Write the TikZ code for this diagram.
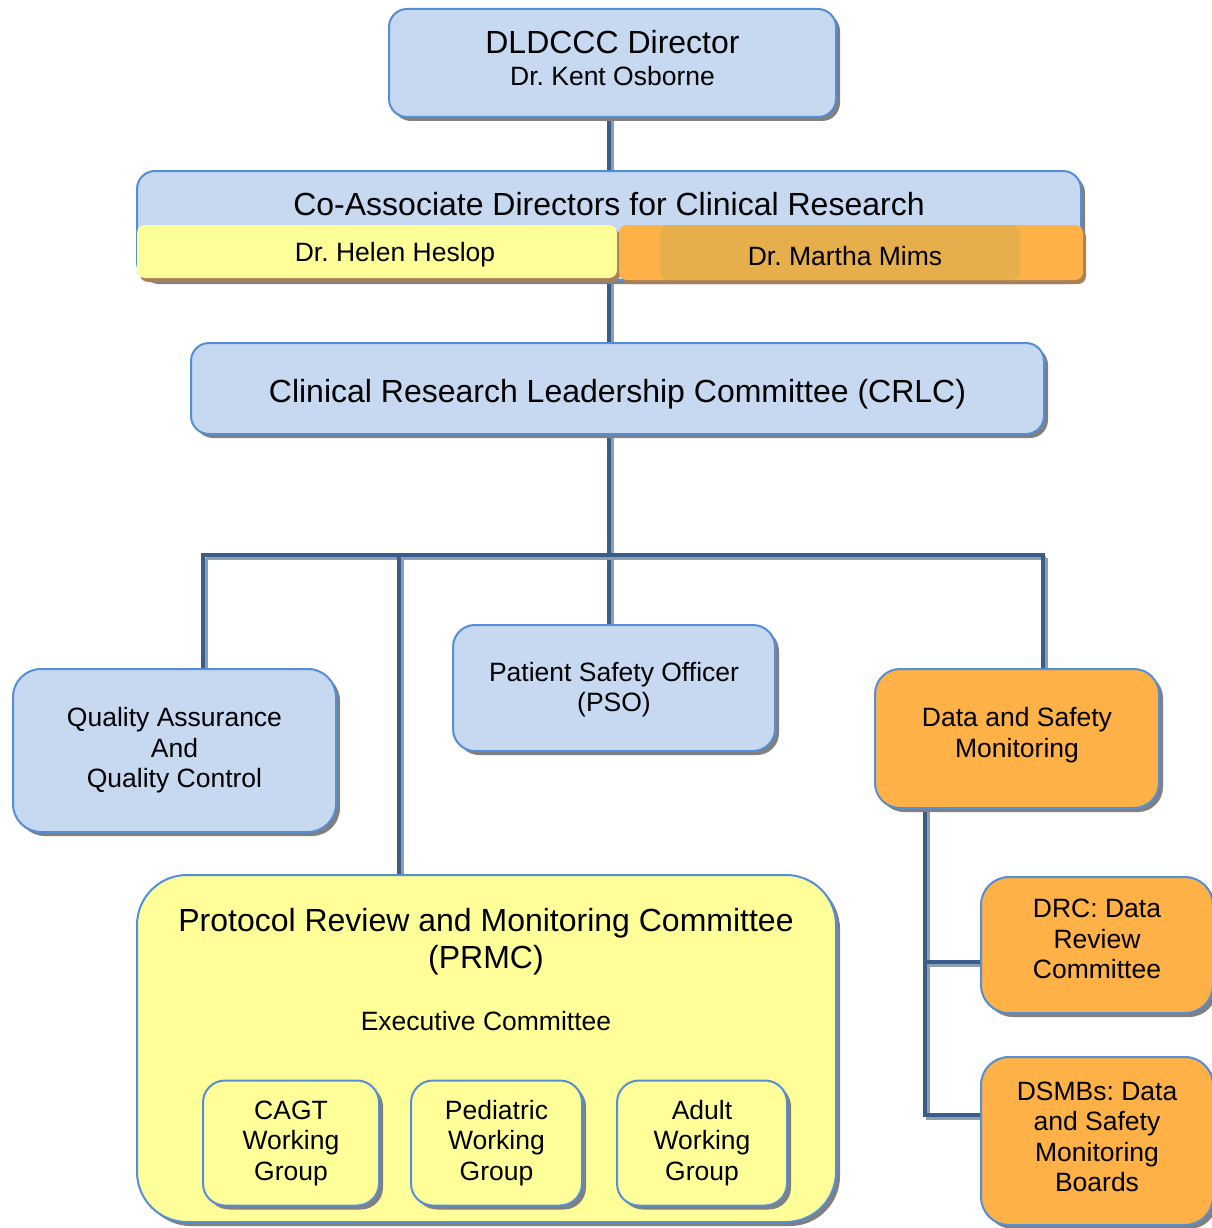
\documentclass[tikz,border=0pt]{standalone}
\usepackage{fontspec}
\setmainfont{Liberation Sans}
\usetikzlibrary{shadows,backgrounds}

\definecolor{boxblue}{HTML}{C6D9F1}
\definecolor{edgeblue}{HTML}{558ED5}
\definecolor{linkblue}{HTML}{385D8A}
\definecolor{linkgrey}{HTML}{8E9CB0}
\definecolor{boxyellow}{HTML}{FFFF99}
\definecolor{boxorange}{HTML}{FDB147}
\definecolor{bandorange}{HTML}{E6AF4B}
\definecolor{shadowgrey}{HTML}{808080}
\definecolor{shadowbrown}{HTML}{A8805A}

\newcommand\bigsize{\fontsize{32}{37}\selectfont}
\newcommand\midsize{\fontsize{26.5}{30.5}\selectfont}
\frenchspacing

\begin{document}
\begin{tikzpicture}[x=1pt,y=-1pt,
    wh/.style 2 args={minimum width=#1pt, minimum height=#2pt},
    box/.style={draw=edgeblue, line width=2pt, rounded corners=#1, inner sep=0pt,
      align=center, font=\midsize,
      drop shadow={shadow xshift=4pt, shadow yshift=-4pt, fill=shadowgrey, opacity=1}},
    box/.default=22pt,
    tab/.style={draw=none, rounded corners=8pt, inner sep=0pt, font=\midsize,
      drop shadow={shadow xshift=3pt, shadow yshift=-4pt, fill=shadowbrown, opacity=1}},
    link/.style={draw=linkblue, line width=4pt, line cap=rect,
      preaction={draw=linkgrey, line width=3.5pt, transform canvas={shift={(3pt,-3pt)}}}}]

  \useasboundingbox (0,0) rectangle (1211,1228);

  % top of the tree
  \node[box=18pt, fill=boxblue, wh={447}{108}] (director) at (612.5,63)
    {{\bigsize DLDCCC Director}\\[1.5pt]Dr. Kent Osborne\rule[-10pt]{0pt}{10pt}};

  \node[box=18pt, fill=boxblue, wh={944}{109}] (coassoc) at (609,225.5) {};
  \node[font=\bigsize] (coassoctitle) at (609,204) {Co-Associate Directors for Clinical Research};
  \node[tab, fill=boxyellow, wh={480}{53}] (heslop) at (377,251.5)
    {\hspace{36pt}\rule{0pt}{25pt}Dr. Helen Heslop};
  \node[tab, fill=boxorange, wh={464}{55},
    path picture={\fill[bandorange] ([xshift=41pt]path picture bounding box.south west)
      rectangle ([xshift=-63pt]path picture bounding box.north east);}]
    (mims) at (851,252.5) {\hspace{-12pt}\rule{0pt}{27pt}Dr. Martha Mims};

  \node[box=18pt, fill=boxblue, wh={853}{91}, font=\bigsize] (crlc) at (617.5,388.5)
    {\rule{0pt}{35pt}Clinical Research Leadership Committee (CRLC)};

  % second row
  \node[box=28pt, fill=boxblue, wh={323}{163}] (qa) at (174.5,750.5)
    {Quality Assurance\\And\\Quality Control};
  \node[box=22pt, fill=boxblue, wh={322}{126}] (pso) at (614,688)
    {\rule{0pt}{22pt}Patient Safety Officer\\(PSO)};
  \node[box=25pt, fill=boxorange, wh={284}{139}] (dsm) at (1017,738.5)
    {Data and Safety\\Monitoring\rule[-12pt]{0pt}{12pt}};

  \node[box=28pt, fill=boxorange, wh={232}{136}] (drc) at (1097,945)
    {DRC: Data\\Review\\Committee\rule[-12pt]{0pt}{12pt}};
  \node[box=28pt, fill=boxorange, wh={232}{168}] (dsmb) at (1097,1141)
    {DSMBs: Data\\and Safety\\Monitoring\\Boards\rule[-9pt]{0pt}{9pt}};

  % PRMC and its groups
  \node[box=50pt, fill=boxyellow, wh={699}{347}] (prmc) at (486.5,1048.5) {};
  \node[font=\bigsize, align=center] (prmctitle) at (486,941.5)
    {Protocol Review and Monitoring Committee\\(PRMC)};
  \node[font=\midsize] (exec) at (486,1021) {Executive Committee};

  \node[box, fill=boxyellow, wh={176}{125}] (cagt) at (291,1143) {CAGT\\Working\\Group};
  \node[box, fill=boxyellow, wh={171}{125}] (peds) at (496.5,1143) {Pediatric\\Working\\Group};
  \node[box, fill=boxyellow, wh={170}{125}] (adult) at (702,1143) {Adult\\Working\\Group};

  % connectors
  \begin{scope}[on background layer]
    \coordinate (busL) at (203,555);
    \coordinate (busP) at (399,555);
    \coordinate (busC) at (609,555);
    \coordinate (busR) at (1043,555);
    \coordinate (spine) at (925,808);
    \coordinate (tapD) at (925,962);
    \coordinate (tapB) at (925,1115);

    \draw[link] (coassoc.north |- director.south) -- (coassoc.north);
    \draw[link] (coassoc.south) -- (coassoc.south |- crlc.north);
    \draw[link] (busC |- crlc.south) -- (busC |- pso.north);
    \draw[link] (busL) -- (busR);
    \draw[link] (busL) -- (busL |- qa.north);
    \draw[link] (busP) -- (busP |- prmc.north);
    \draw[link] (busR) -- (busR |- dsm.north);
    \draw[link] (spine) |- (tapB -| dsmb.west);
    \draw[link] (tapD) -- (tapD -| drc.west);
  \end{scope}

\end{tikzpicture}
\end{document}
